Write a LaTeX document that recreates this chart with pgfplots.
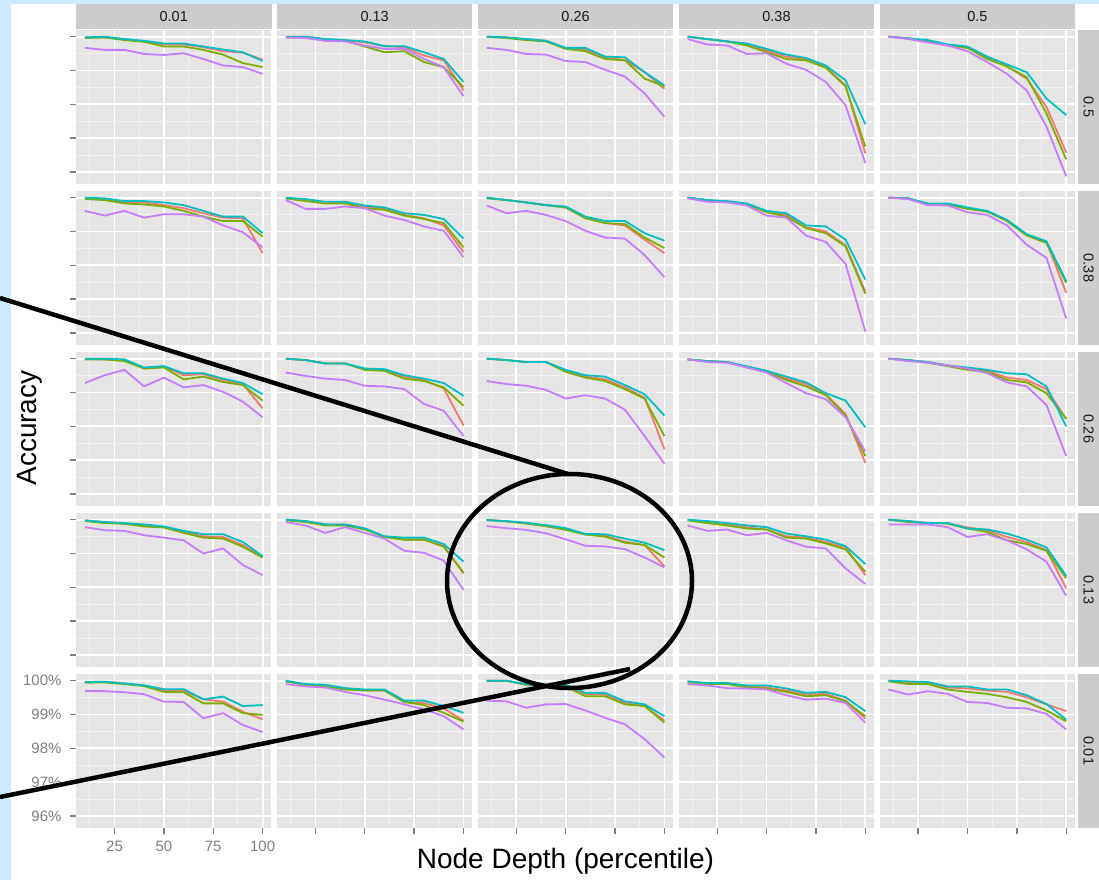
\documentclass[border=0pt]{standalone}
\usepackage{fontspec}
\setmainfont{Liberation Sans}
\usepackage{pgfplots}
\usepackage{pgfplotstable}
\pgfplotsset{compat=1.18}

\definecolor{bluebg}{HTML}{CCEBFF}
\definecolor{panelbg}{HTML}{E5E5E5}
\definecolor{gridminor}{HTML}{F2F2F2}
\definecolor{stripgray}{HTML}{CCCCCC}
\definecolor{tickgray}{HTML}{7F7F7F}
\definecolor{striptext}{HTML}{1A1A1A}
\definecolor{sR}{HTML}{F8766D}
\definecolor{sG}{HTML}{7CAE00}
\definecolor{sC}{HTML}{00BFC4}
\definecolor{sP}{HTML}{C77CFF}

% one table per panel: rows A-E (0.5 ... 0.01), columns A-E (0.01 ... 0.5)
\pgfplotstableread{
x R G C P
10 99.98 99.96 99.98 99.67
20 99.98 99.98 100.00 99.61
30 99.93 99.90 99.93 99.61
40 99.86 99.85 99.88 99.49
50 99.77 99.71 99.80 99.46
60 99.77 99.71 99.80 99.51
70 99.69 99.61 99.71 99.34
80 99.57 99.47 99.62 99.15
90 99.53 99.22 99.54 99.10
100 99.32 99.10 99.28 98.90
}\tAA
\pgfplotstableread{
x R G C P
10 100.00 99.98 100.00 99.98
20 100.00 99.98 100.00 99.96
30 99.93 99.88 99.93 99.88
40 99.90 99.88 99.90 99.86
50 99.83 99.71 99.86 99.74
60 99.72 99.54 99.72 99.64
70 99.69 99.57 99.72 99.64
80 99.44 99.25 99.54 99.34
90 99.30 99.10 99.34 99.10
100 98.41 98.51 98.66 98.24
}\tAB
\pgfplotstableread{
x R G C P
10 100.00 100.00 100.00 99.67
20 99.98 99.96 99.98 99.61
30 99.93 99.90 99.93 99.49
40 99.88 99.86 99.88 99.47
50 99.67 99.64 99.67 99.28
60 99.61 99.57 99.67 99.25
70 99.37 99.34 99.41 99.02
80 99.31 99.30 99.39 98.82
90 98.95 98.76 98.95 98.32
100 98.46 98.53 98.56 97.63
}\tAC
\pgfplotstableread{
x R G C P
10 100.00 100.00 100.00 99.93
20 99.93 99.93 99.93 99.77
30 99.86 99.86 99.86 99.74
40 99.77 99.74 99.80 99.49
50 99.59 99.54 99.64 99.51
60 99.41 99.34 99.47 99.20
70 99.34 99.30 99.37 99.02
80 99.10 99.08 99.15 98.66
90 98.56 98.53 98.71 97.97
100 96.55 96.75 97.41 96.26
}\tAD
\pgfplotstableread{
x R G C P
10 100.00 100.00 100.00 100.00
20 99.95 99.95 99.95 99.93
30 99.86 99.86 99.90 99.83
40 99.74 99.74 99.77 99.74
50 99.67 99.67 99.71 99.57
60 99.37 99.34 99.41 99.25
70 99.12 99.12 99.18 98.90
80 98.76 98.80 98.95 98.41
90 97.92 97.73 98.17 97.34
100 96.57 96.37 97.68 95.87
}\tAE
\pgfplotstableread{
x R G C P
10 99.98 99.96 100.00 99.61
20 99.96 99.93 99.98 99.47
30 99.86 99.83 99.90 99.61
40 99.86 99.80 99.90 99.41
50 99.78 99.74 99.86 99.51
60 99.69 99.61 99.78 99.51
70 99.54 99.44 99.61 99.44
80 99.41 99.31 99.44 99.18
90 99.39 99.31 99.44 98.98
100 98.36 98.85 98.95 98.53
}\tBA
\pgfplotstableread{
x R G C P
10 99.98 99.98 100.00 99.93
20 99.93 99.90 99.96 99.67
30 99.86 99.83 99.88 99.67
40 99.86 99.83 99.88 99.74
50 99.74 99.69 99.77 99.69
60 99.67 99.64 99.71 99.47
70 99.49 99.47 99.54 99.34
80 99.39 99.37 99.49 99.15
90 99.18 99.25 99.37 99.02
100 98.39 98.53 98.79 98.24
}\tBB
\pgfplotstableread{
x R G C P
10 100.00 99.98 100.00 99.77
20 99.93 99.93 99.93 99.54
30 99.86 99.86 99.86 99.61
40 99.78 99.78 99.78 99.49
50 99.71 99.71 99.74 99.31
60 99.41 99.39 99.44 99.02
70 99.25 99.25 99.31 98.82
80 99.18 99.22 99.31 98.79
90 98.76 98.82 98.95 98.30
100 98.36 98.51 98.73 97.65
}\tBC
\pgfplotstableread{
x R G C P
10 100.00 100.00 100.00 99.98
20 99.93 99.93 99.93 99.88
30 99.88 99.88 99.90 99.86
40 99.80 99.80 99.83 99.77
50 99.59 99.57 99.61 99.47
60 99.49 99.44 99.54 99.41
70 99.12 99.10 99.18 98.88
80 99.00 98.95 99.15 98.69
90 98.59 98.56 98.76 98.04
100 97.22 97.16 97.58 96.04
}\tBD
\pgfplotstableread{
x R G C P
10 100.00 100.00 100.00 100.00
20 99.98 99.98 99.98 99.96
30 99.80 99.80 99.83 99.78
40 99.80 99.80 99.83 99.77
50 99.69 99.67 99.71 99.57
60 99.59 99.59 99.61 99.49
70 99.34 99.31 99.34 99.18
80 98.90 98.88 98.92 98.61
90 98.69 98.66 98.71 98.22
100 97.19 97.48 97.53 96.43
}\tBE
\pgfplotstableread{
x R G C P
10 100.00 99.98 100.00 99.28
20 99.98 99.98 100.00 99.51
30 99.96 99.93 99.98 99.67
40 99.71 99.71 99.74 99.18
50 99.77 99.74 99.78 99.44
60 99.51 99.39 99.57 99.15
70 99.54 99.47 99.57 99.22
80 99.37 99.31 99.41 99.02
90 99.25 99.22 99.28 98.73
100 98.53 98.76 98.95 98.27
}\tCA
\pgfplotstableread{
x R G C P
10 100.00 100.00 100.00 99.59
20 99.96 99.96 99.96 99.49
30 99.86 99.86 99.86 99.41
40 99.86 99.86 99.86 99.37
50 99.69 99.67 99.71 99.20
60 99.67 99.64 99.69 99.18
70 99.47 99.41 99.51 99.10
80 99.37 99.34 99.41 98.66
90 99.12 99.15 99.28 98.46
100 98.02 98.61 98.90 97.71
}\tCB
\pgfplotstableread{
x R G C P
10 100.00 100.00 100.00 99.34
20 99.96 99.96 99.96 99.25
30 99.90 99.90 99.90 99.20
40 99.90 99.90 99.90 99.08
50 99.64 99.61 99.67 98.82
60 99.47 99.44 99.51 98.92
70 99.39 99.34 99.47 98.82
80 99.15 99.10 99.22 98.49
90 98.85 98.82 98.95 97.71
100 97.32 97.71 98.32 96.89
}\tCC
\pgfplotstableread{
x R G C P
10 99.98 99.98 99.98 99.98
20 99.93 99.93 99.93 99.90
30 99.90 99.90 99.90 99.88
40 99.77 99.74 99.77 99.74
50 99.64 99.61 99.64 99.59
60 99.41 99.37 99.47 99.28
70 99.25 99.18 99.30 98.98
80 98.95 98.92 98.98 98.80
90 98.36 98.32 98.76 98.27
100 96.92 97.12 97.97 97.26
}\tCD
\pgfplotstableread{
x R G C P
10 100.00 100.00 100.00 100.00
20 99.96 99.96 99.96 99.93
30 99.90 99.88 99.90 99.88
40 99.80 99.78 99.80 99.80
50 99.71 99.67 99.74 99.71
60 99.64 99.61 99.67 99.57
70 99.44 99.37 99.57 99.30
80 99.37 99.30 99.54 99.18
90 99.10 98.98 99.18 98.63
100 98.22 98.22 98.00 97.12
}\tCE
\pgfplotstableread{
x R G C P
10 99.98 99.96 99.98 99.78
20 99.93 99.90 99.93 99.69
30 99.88 99.88 99.90 99.67
40 99.83 99.80 99.86 99.54
50 99.78 99.77 99.80 99.47
60 99.64 99.61 99.67 99.39
70 99.51 99.47 99.57 99.00
80 99.49 99.44 99.57 99.15
90 99.25 99.20 99.34 98.66
100 98.88 98.88 98.92 98.36
}\tDA
\pgfplotstableread{
x R G C P
10 100.00 99.98 100.00 99.93
20 99.96 99.93 99.96 99.83
30 99.86 99.83 99.86 99.61
40 99.86 99.83 99.86 99.78
50 99.74 99.71 99.74 99.61
60 99.49 99.49 99.51 99.44
70 99.41 99.41 99.47 99.08
80 99.41 99.41 99.47 99.02
90 99.22 99.20 99.28 98.79
100 98.41 98.43 98.76 97.92
}\tDB
\pgfplotstableread{
x R G C P
10 99.99 99.99 99.99 99.81
20 99.95 99.95 99.96 99.75
30 99.89 99.89 99.91 99.70
40 99.81 99.81 99.84 99.60
50 99.72 99.70 99.75 99.42
60 99.57 99.56 99.58 99.23
70 99.52 99.50 99.57 99.21
80 99.35 99.32 99.44 99.13
90 99.25 99.25 99.32 98.88
100 98.62 98.88 99.10 98.59
}\tDC
\pgfplotstableread{
x R G C P
10 100.00 99.98 100.00 99.83
20 99.93 99.90 99.96 99.67
30 99.86 99.83 99.90 99.71
40 99.77 99.74 99.83 99.54
50 99.71 99.71 99.78 99.61
60 99.51 99.47 99.59 99.39
70 99.47 99.44 99.51 99.20
80 99.34 99.30 99.41 99.15
90 99.18 99.12 99.22 98.56
100 98.36 98.46 98.69 98.10
}\tDD
\pgfplotstableread{
x R G C P
10 100.00 100.00 100.00 99.86
20 99.96 99.93 99.96 99.86
30 99.90 99.90 99.90 99.86
40 99.90 99.88 99.90 99.78
50 99.77 99.74 99.74 99.49
60 99.69 99.64 99.71 99.57
70 99.49 99.39 99.59 99.39
80 99.34 99.28 99.41 99.12
90 99.10 99.08 99.18 98.76
100 97.97 98.27 98.34 97.75
}\tDE
\pgfplotstableread{
x R G C P
10 99.96 99.94 99.96 99.70
20 99.97 99.95 99.97 99.69
30 99.92 99.90 99.92 99.66
40 99.86 99.84 99.86 99.60
50 99.72 99.67 99.75 99.38
60 99.70 99.66 99.75 99.37
70 99.45 99.33 99.45 98.89
80 99.38 99.33 99.53 99.04
90 99.08 99.04 99.25 98.69
100 98.86 98.99 99.28 98.48
}\tEA
\pgfplotstableread{
x R G C P
10 99.98 99.98 100.00 99.90
20 99.88 99.88 99.90 99.83
30 99.86 99.83 99.88 99.80
40 99.77 99.74 99.78 99.67
50 99.71 99.71 99.74 99.57
60 99.71 99.71 99.74 99.44
70 99.37 99.37 99.41 99.30
80 99.34 99.28 99.41 99.15
90 99.18 99.05 99.25 98.95
100 98.82 98.79 99.05 98.56
}\tEB
\pgfplotstableread{
x R G C P
10 100.00 100.00 100.00 99.41
20 100.00 100.00 100.00 99.39
30 99.88 99.88 99.90 99.20
40 99.83 99.83 99.83 99.30
50 99.86 99.83 99.88 99.31
60 99.61 99.54 99.64 99.12
70 99.59 99.54 99.64 98.90
80 99.34 99.30 99.39 98.71
90 99.25 99.25 99.30 98.27
100 98.82 98.76 98.95 97.73
}\tEC
\pgfplotstableread{
x R G C P
10 99.98 99.96 99.98 99.90
20 99.93 99.90 99.93 99.86
30 99.93 99.90 99.93 99.78
40 99.83 99.80 99.86 99.77
50 99.80 99.77 99.86 99.74
60 99.71 99.67 99.77 99.57
70 99.59 99.54 99.64 99.44
80 99.61 99.57 99.67 99.47
90 99.41 99.39 99.51 99.34
100 98.88 98.95 99.10 98.76
}\tED
\pgfplotstableread{
x R G C P
10 100.00 99.98 100.00 99.74
20 99.96 99.90 99.98 99.59
30 99.93 99.90 99.96 99.69
40 99.80 99.74 99.83 99.61
50 99.77 99.67 99.83 99.37
60 99.71 99.61 99.74 99.34
70 99.67 99.51 99.74 99.20
80 99.51 99.37 99.57 99.18
90 99.30 99.12 99.31 99.02
100 99.10 98.80 98.85 98.56
}\tEE

\pgfplotsset{
  panel/.style={
    scale only axis, width=195.5pt, height=154.8pt, anchor=north west,
    xmin=5.5, xmax=104.5, ymin=95.63, ymax=100.21,
    axis background/.style={fill=panelbg},
    axis line style={draw=none},
    xtick={25,50,75,100}, minor xtick={12.5,37.5,62.5,87.5},
    ytick={96,97,98,99,100}, minor ytick={96.5,97.5,98.5,99.5},
    grid=both,
    major grid style={draw=white, line width=1.8pt},
    minor grid style={draw=gridminor, line width=0.9pt},
    tick align=outside, major tick length=6pt, minor tick length=0pt,
    xtick pos=bottom, ytick pos=left,
    xtick style={draw=none}, ytick style={draw=none},
    xticklabels={}, yticklabels={},
    tick label style={font=\fontsize{15}{17}\selectfont, text=tickgray},
    /pgf/number format/assume math mode=true,
  },
  firstcol/.style={ytick style={draw=tickgray, line width=1.4pt}},
  lastrow/.style={xtick style={draw=tickgray, line width=1.4pt}},
}

\newcommand{\panel}[4]{%
  \begin{axis}[panel, at={({76pt+200.9pt*#1},{-29.6pt-161pt*#2})}, #4]
    \addplot[sR, line width=1.8pt, line join=round, no marks] table[x=x, y=R] {#3};
    \addplot[sG, line width=1.8pt, line join=round, no marks] table[x=x, y=G] {#3};
    \addplot[sC, line width=1.8pt, line join=round, no marks] table[x=x, y=C] {#3};
    \addplot[sP, line width=1.8pt, line join=round, no marks] table[x=x, y=P] {#3};
  \end{axis}}

\begin{document}
\begin{tikzpicture}
\begin{scope}[x=1pt, y=-1pt]
  \fill[bluebg] (0,0) rectangle (1099,880);
  \path[use as bounding box] (0,0) rectangle (1099,880);
  \fill[white] (11,4) rectangle (1099,880);
\end{scope}

\panel{0}{0}{\tAA}{firstcol}
\panel{1}{0}{\tAB}{}
\panel{2}{0}{\tAC}{}
\panel{3}{0}{\tAD}{}
\panel{4}{0}{\tAE}{}
\panel{0}{1}{\tBA}{firstcol}
\panel{1}{1}{\tBB}{}
\panel{2}{1}{\tBC}{}
\panel{3}{1}{\tBD}{}
\panel{4}{1}{\tBE}{}
\panel{0}{2}{\tCA}{firstcol}
\panel{1}{2}{\tCB}{}
\panel{2}{2}{\tCC}{}
\panel{3}{2}{\tCD}{}
\panel{4}{2}{\tCE}{}
\panel{0}{3}{\tDA}{firstcol}
\panel{1}{3}{\tDB}{}
\panel{2}{3}{\tDC}{}
\panel{3}{3}{\tDD}{}
\panel{4}{3}{\tDE}{}
\panel{0}{4}{\tEA}{firstcol, lastrow,
  yticklabels={96\%,97\%,98\%,99\%,100\%}, xticklabels={25,50,75,100},
  yticklabel style={xshift=-5pt}, xticklabel style={yshift=-3pt}}
\panel{1}{4}{\tEB}{lastrow}
\panel{2}{4}{\tEC}{lastrow}
\panel{3}{4}{\tED}{lastrow}
\panel{4}{4}{\tEE}{lastrow}

\begin{scope}[x=1pt, y=-1pt]
  % column strips
  \foreach \c/\lab in {0/0.01, 1/0.13, 2/0.26, 3/0.38, 4/0.5} {
    \fill[stripgray] ({76+200.9*\c},4) rectangle ({76+200.9*\c+195.5},29.3);
    \node[text=striptext, font=\fontsize{14.5}{17}\selectfont]
      at ({76+200.9*\c+97.75},16.8) {\lab};
  }
  % row strips
  \foreach \r/\lab in {0/0.5, 1/0.38, 2/0.26, 3/0.13, 4/0.01} {
    \fill[stripgray] (1077.5,{29.6+161*\r}) rectangle (1099,{29.6+161*\r+154.8});
    \node[text=striptext, font=\fontsize{14.5}{17}\selectfont, rotate=-90]
      at (1088.5,{29.6+161*\r+77.4}) {\lab};
  }
  % axis titles
  \node[anchor=base, font=\fontsize{28}{32}\selectfont] at (565.5,868) {Node Depth (percentile)};
  \node[anchor=base, rotate=90, font=\fontsize{28}{32}\selectfont] at (36,428) {Accuracy};
  % annotation overlay
  \begin{scope}
    \clip (0,0) rectangle (1099,880);
    \draw[black, line width=4.5pt] (0,298) -- (568,474);
    \draw[black, line width=4.5pt] (0,797) -- (630,669);
    \draw[black, line width=4.5pt] (569.5,581) ellipse [x radius=122.5pt, y radius=107pt];
  \end{scope}
\end{scope}
\end{tikzpicture}
\end{document}
